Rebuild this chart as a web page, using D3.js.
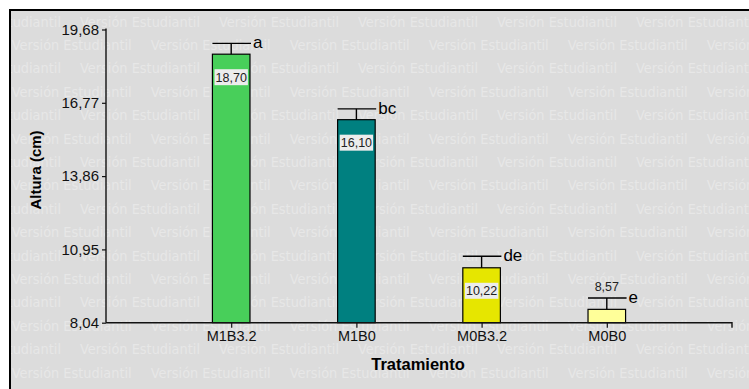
<!DOCTYPE html>
<html>
<head>
<meta charset="utf-8">
<script src="https://cdn.jsdelivr.net/npm/d3@7"></script>
<style>
  html, body { margin: 0; padding: 0; background: #ffffff; }
  svg { display: block; }
</style>
</head>
<body>
<div id="chart"></div>
<script>
// datos
var categories = ['M1B3.2', 'M1B0', 'M0B3.2', 'M0B0']
var means = [18.70, 16.10, 10.22, 8.57]
var errors = [0.43, 0.43, 0.46, 0.45]
var letters = ['a', 'bc', 'de', 'e']
var yTicks = [8.04, 10.95, 13.86, 16.77, 19.68]

var barColors = ['#48cf5a', '#008080', '#e6e600', '#ffff99']

var width = 749,
    height = 389,
    axisLeft = 106,
    axisRight = 732,
    axisTop = 29.5,
    axisBottom = 322.7,
    font = 'Arial, "Liberation Sans", sans-serif'

var data = categories.map(function (c, i) {
    return { name: c, value: means[i], err: errors[i], letter: letters[i], color: barColors[i] }
})

var svg = d3.select('#chart')
    .append('svg')
    .attr('width', width)
    .attr('height', height)

// marco y fondo gris
svg.append('rect')
    .attr('x', 10)
    .attr('y', 10)
    .attr('width', width)
    .attr('height', height)
    .attr('fill', '#dcdcdc')
    .attr('stroke', '#000')
    .attr('stroke-width', 2)

// marca de agua "Versión Estudiantil"
var wm = svg.append('g').attr('class', 'watermark')
for (var r = 0; r < 16; r++) {
    var y = 21.7 + r * 23.4
    var start = r % 2 === 0 ? 80 - 139 : 11.7
    for (var x = start; x < width; x += 139) {
        wm.append('text')
            .attr('x', x)
            .attr('y', y)
            .attr('dy', '0.35em')
            .attr('textLength', 120)
            .attr('lengthAdjust', 'spacingAndGlyphs')
            .style('font-family', '"DejaVu Sans", sans-serif')
            .style('font-size', '14px')
            .attr('fill', '#e7e7e7')
            .text('Versión Estudiantil')
    }
}
// recorte a la zona del panel
svg.append('rect').attr('x', 0).attr('y', 0).attr('width', 9).attr('height', height).attr('fill', '#fff')
svg.append('rect').attr('x', 0).attr('y', 0).attr('width', width).attr('height', 9).attr('fill', '#fff')
svg.append('line').attr('x1', 10).attr('x2', 10).attr('y1', 9).attr('y2', height).attr('stroke', '#000').attr('stroke-width', 2)
svg.append('line').attr('x1', 9).attr('x2', width).attr('y1', 10).attr('y2', 10).attr('stroke', '#000').attr('stroke-width', 2)

// escalas
var x = d3.scalePoint()
    .domain(categories)
    .range([axisLeft, axisRight])
    .padding(1)

var barWidth = x.step() * 0.3

var y = d3.scaleLinear()
    .domain([yTicks[0], yTicks[yTicks.length - 1]])
    .range([axisBottom, axisTop])

var fmt = function (v) { return d3.format('.2f')(v).replace('.', ',') }

// barras
var bars = svg.append('g').selectAll('g')
    .data(data)
    .enter()
    .append('g')

bars.append('rect')
    .attr('x', function (d) { return x(d.name) - barWidth / 2 })
    .attr('y', function (d) { return y(d.value) })
    .attr('width', barWidth)
    .attr('height', function (d) { return y(yTicks[0]) - y(d.value) })
    .attr('fill', function (d) { return d.color })
    .attr('stroke', '#000')
    .attr('stroke-width', 1.2)

// barras de error
bars.append('line')
    .attr('x1', function (d) { return x(d.name) })
    .attr('x2', function (d) { return x(d.name) })
    .attr('y1', function (d) { return y(d.value) })
    .attr('y2', function (d) { return y(d.value + d.err) })
    .attr('stroke', '#000')
    .attr('stroke-width', 1.4)
bars.append('line')
    .attr('x1', function (d) { return x(d.name) - barWidth / 2 })
    .attr('x2', function (d) { return x(d.name) + barWidth / 2 + 1 })
    .attr('y1', function (d) { return y(d.value + d.err) })
    .attr('y2', function (d) { return y(d.value + d.err) })
    .attr('stroke', '#000')
    .attr('stroke-width', 1.4)

// letras de significancia
bars.append('text')
    .attr('x', function (d) { return x(d.name) + barWidth / 2 + 3 })
    .attr('y', function (d) { return y(d.value + d.err) })
    .attr('dy', '0.3em')
    .style('font-family', font)
    .style('font-size', '17px')
    .attr('fill', '#000')
    .text(function (d) { return d.letter })

// etiquetas de valor
bars.each(function (d) {
    var g = d3.select(this)
    var tall = y(yTicks[0]) - y(d.value) > 35
    var cx = x(d.name)
    if (tall) {
        var cy = y(d.value) + 23
        g.append('rect')
            .attr('x', cx - 16.7)
            .attr('y', cy - 8)
            .attr('width', 33.4)
            .attr('height', 16)
            .attr('fill', '#ececec')
        g.append('text')
            .attr('x', cx)
            .attr('y', cy)
            .attr('dy', '0.36em')
            .attr('text-anchor', 'middle')
            .style('font-family', font)
            .style('font-size', '12.5px')
            .attr('fill', '#222')
            .text(fmt(d.value))
    } else {
        g.append('text')
            .attr('x', cx)
            .attr('y', y(d.value + d.err) - 12)
            .attr('dy', '0.36em')
            .attr('text-anchor', 'middle')
            .style('font-family', font)
            .style('font-size', '12.5px')
            .attr('fill', '#222')
            .text(fmt(d.value))
    }
})

// eje Y
var yAxis = svg.append('g')
    .attr('transform', 'translate(' + axisLeft + ',0)')
    .call(d3.axisLeft(y).tickValues(yTicks).tickSize(4).tickPadding(3).tickFormat(fmt))
yAxis.select('.domain').attr('d', 'M0,' + (axisTop - 1) + 'V' + axisBottom).attr('stroke', '#111').attr('stroke-width', 1.4)
yAxis.selectAll('.tick line').attr('stroke', '#111').attr('stroke-width', 1.2)
yAxis.selectAll('.tick text')
    .style('font-family', font)
    .style('font-size', '15px')
    .attr('fill', '#111')

// eje X
var xAxis = svg.append('g')
    .attr('transform', 'translate(0,' + axisBottom + ')')
    .call(d3.axisBottom(x).tickSize(5).tickPadding(3))
xAxis.select('.domain').attr('d', 'M' + axisLeft + ',0H' + axisRight + 'V5').attr('stroke', '#111').attr('stroke-width', 1.4).attr('fill', 'none')
xAxis.selectAll('.tick line').attr('stroke', '#111').attr('stroke-width', 1.2)
xAxis.selectAll('.tick text')
    .style('font-family', font)
    .style('font-size', '14.5px')
    .attr('fill', '#111')

// títulos
svg.append('text')
    .attr('transform', 'translate(41,170) rotate(-90)')
    .attr('text-anchor', 'middle')
    .style('font-family', font)
    .style('font-size', '15px')
    .style('font-weight', 'bold')
    .attr('fill', '#000')
    .text('Altura (cm)')

svg.append('text')
    .attr('x', 418)
    .attr('y', 369.5)
    .attr('text-anchor', 'middle')
    .style('font-family', font)
    .style('font-size', '16.5px')
    .style('font-weight', 'bold')
    .attr('fill', '#000')
    .text('Tratamiento')
</script>
</body>
</html>
